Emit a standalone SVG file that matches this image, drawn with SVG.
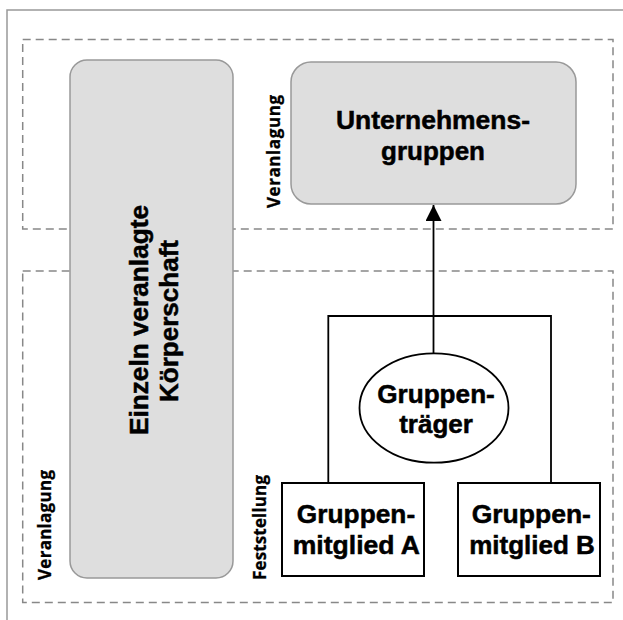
<svg xmlns="http://www.w3.org/2000/svg" width="623" height="620" viewBox="0 0 623 620">
<defs>
<style>
.frame{fill:none;stroke:#999;stroke-width:1.5}
.zone{fill:none;stroke:#888;stroke-width:1.5;stroke-dasharray:8 5}
.grey{fill:#dedede;stroke:#999;stroke-width:1.5}
.box{fill:#fff;stroke:#000;stroke-width:2}
.big{font-family:"Liberation Sans",Arial,sans-serif;font-weight:bold;font-size:26px;fill:#000;stroke:#000;stroke-width:0.5;text-anchor:middle}
.vbig{font-family:"Liberation Sans",Arial,sans-serif;font-weight:bold;font-size:26.5px;fill:#000;stroke:#000;stroke-width:0.5;text-anchor:middle}
.lab{font-family:"Open Sans","Noto Sans",sans-serif;font-weight:bold;font-size:17px;fill:#000;stroke:#000;stroke-width:0.3;text-anchor:middle}
.conn{fill:none;stroke:#000;stroke-width:1.8}
</style>
<marker id="arr" markerUnits="userSpaceOnUse" markerWidth="17" markerHeight="16" viewBox="0 0 16 16" refX="16" refY="8" orient="auto">
<path d="M0,0 L16,8 L0,16 z" fill="#000"/>
</marker>
</defs>
<rect width="623" height="620" fill="#fff"/>
<path class="frame" d="M7,625 V10 H630"/>
<g id="zone-top">
<rect class="zone" x="22.7" y="39.5" width="590.3" height="189.5"/>
</g>
<g id="zone-bottom">
<rect class="zone" x="22.7" y="271" width="590.3" height="331.5"/>
</g>
<g id="labels">
<text class="lab" transform="translate(280,151.5) rotate(-90)" textLength="113" lengthAdjust="spacing">Veranlagung</text>
<text class="lab" transform="translate(51,525) rotate(-90)" textLength="110" lengthAdjust="spacing">Veranlagung</text>
<text class="lab" transform="translate(266,527.5) rotate(-90)" textLength="105" lengthAdjust="spacing">Feststellung</text>
</g>
<g id="connectors">
<path class="conn" d="M328.3,483 V316 H551 V483"/>
<path class="conn" d="M433.5,353 V205" marker-end="url(#arr)"/>
</g>
<g id="einzeln">
<rect class="grey" x="70" y="60" width="163" height="518" rx="17"/>
<text class="vbig" transform="translate(148.3,320) rotate(-90)" textLength="230" lengthAdjust="spacingAndGlyphs">Einzeln veranlagte</text>
<text class="vbig" transform="translate(178.3,321) rotate(-90)" textLength="162" lengthAdjust="spacingAndGlyphs">Körperschaft</text>
</g>
<g id="unternehmensgruppen">
<rect class="grey" x="291" y="62" width="285" height="142" rx="20"/>
<text class="big" x="433" y="129.3" textLength="194" lengthAdjust="spacingAndGlyphs">Unternehmens-</text>
<text class="big" x="433" y="160" textLength="104" lengthAdjust="spacingAndGlyphs">gruppen</text>
</g>
<g id="gruppentraeger">
<ellipse cx="434" cy="408" rx="74.5" ry="54.7" fill="#fff" stroke="#000" stroke-width="1.8"/>
<text class="big" x="436" y="402.7" textLength="117.7" lengthAdjust="spacingAndGlyphs">Gruppen-</text>
<text class="big" x="436" y="433.3" textLength="73.7" lengthAdjust="spacingAndGlyphs">träger</text>
</g>
<g id="mitglied-a">
<rect class="box" x="282" y="483" width="142" height="93"/>
<text class="big" x="356" y="522.7" textLength="118.3" lengthAdjust="spacingAndGlyphs">Gruppen-</text>
<text class="big" x="356.4" y="554.3" textLength="127.3" lengthAdjust="spacingAndGlyphs">mitglied A</text>
</g>
<g id="mitglied-b">
<rect class="box" x="458" y="483" width="142" height="93"/>
<text class="big" x="531.3" y="522.7" textLength="119.3" lengthAdjust="spacingAndGlyphs">Gruppen-</text>
<text class="big" x="532" y="554.3" textLength="125.7" lengthAdjust="spacingAndGlyphs">mitglied B</text>
</g>
</svg>
